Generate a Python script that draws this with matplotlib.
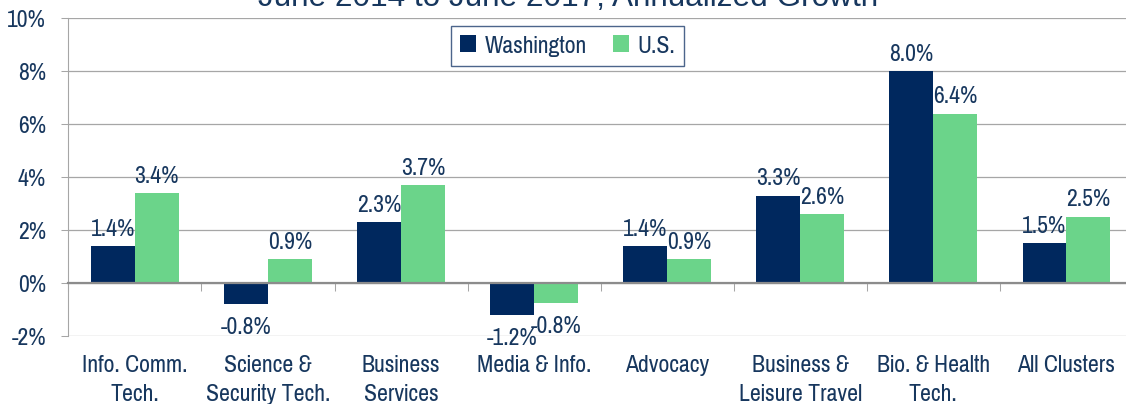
import matplotlib.pyplot as plt
import numpy as np
from matplotlib.ticker import FuncFormatter

# Chart values (percent, annualized growth June 2014 - June 2017)
categories = [
    "Info. Comm.\nTech.",
    "Science &\nSecurity Tech.",
    "Business\nServices",
    "Media & Info.",
    "Advocacy",
    "Business &\nLeisure Travel",
    "Bio. & Health\nTech.",
    "All Clusters",
]
washington = [1.4, -0.8, 2.3, -1.2, 1.4, 3.3, 8.0, 1.5]
us = [3.4, 0.9, 3.7, -0.76, 0.9, 2.6, 6.4, 2.5]
series_names = ["Washington", "U.S."]
title = "June 2014 to June 2017, Annualized Growth"
y_ticks = [-2, 0, 2, 4, 6, 8, 10]

# Styling
NAVY = "#00285E"
GREEN = "#6BD48A"
TEXT = "#17375E"
GRID = "#A6A6A6"
FONT = ["Pragati Narrow", "Liberation Sans", "DejaVu Sans"]
FS = 18.6

plt.rcParams["font.family"] = FONT

fig = plt.figure(figsize=(11.26, 4.04), dpi=100)
ax = fig.add_axes([0.0607, 0.1683, 0.9455, 0.7864])

x = np.arange(len(categories))
w = 0.33
bars_w = ax.bar(x - w / 2, washington, w, color=NAVY, label=series_names[0], zorder=3)
bars_u = ax.bar(x + w / 2, us, w, color=GREEN, label=series_names[1], zorder=3)

# Data labels above positive bars, below negative bars
for bars, vals in [(bars_w, washington), (bars_u, us)]:
    for b, v in zip(bars, vals):
        cx = b.get_x() + b.get_width() / 2
        off = 7.5 if v >= 0 else -21.5
        ax.annotate(f"{v:.1f}%", xy=(cx, v), xytext=(0, off),
                    textcoords="offset points", ha="center", va="baseline",
                    fontsize=FS, color=TEXT, zorder=4)

ax.set_xlim(-0.5, len(categories) - 0.5)
ax.set_ylim(-2, 10)
ax.set_yticks(y_ticks)
ax.yaxis.set_major_formatter(FuncFormatter(lambda v, p: f"{v:.0f}%"))
ax.tick_params(axis="y", length=5, width=0.75, color=GRID, pad=11,
               labelsize=FS, labelcolor=TEXT)
ax.yaxis.grid(True, color=GRID, linewidth=0.9, zorder=0)
ax.set_axisbelow(True)

# Zero line with boundary ticks
ax.spines["bottom"].set_position(("data", 0))
ax.spines["bottom"].set_color("#8C8C8C")
ax.spines["bottom"].set_linewidth(1.6)
ax.spines["bottom"].set_zorder(5)
ax.set_xticks(np.arange(-0.5, len(categories)))
ax.tick_params(axis="x", length=6, width=0.75, color=GRID, labelbottom=False)
ax.spines["left"].set_color(GRID)
ax.spines["top"].set_visible(False)
ax.spines["right"].set_visible(False)

# Category labels at the bottom of the plot area
sec = ax.secondary_xaxis(0.0)
sec.set_xticks(x)
sec.set_xticklabels(categories)
sec.tick_params(length=0, pad=14, labelsize=FS, labelcolor=TEXT)
sec.spines["bottom"].set_visible(False)
for lbl in sec.get_xticklabels():
    lbl.set_linespacing(1.42)

leg = ax.legend(loc="center", bbox_to_anchor=(0.5044, 0.886),
                bbox_transform=fig.transFigure, ncol=2, frameon=True,
                fancybox=False, fontsize=FS, handlelength=0.6, handleheight=0.6,
                handletextpad=0.35, columnspacing=1.0, borderpad=0.35)
leg.get_frame().set_edgecolor("#1F3F6E")
leg.get_frame().set_linewidth(1.0)
for t in leg.get_texts():
    t.set_color(TEXT)

fig.text(0.5044, 0.984, title, ha="center", va="baseline", fontsize=22.7,
         color=TEXT, family=["Liberation Sans", "DejaVu Sans"])

fig.savefig("out.png", dpi=100)
